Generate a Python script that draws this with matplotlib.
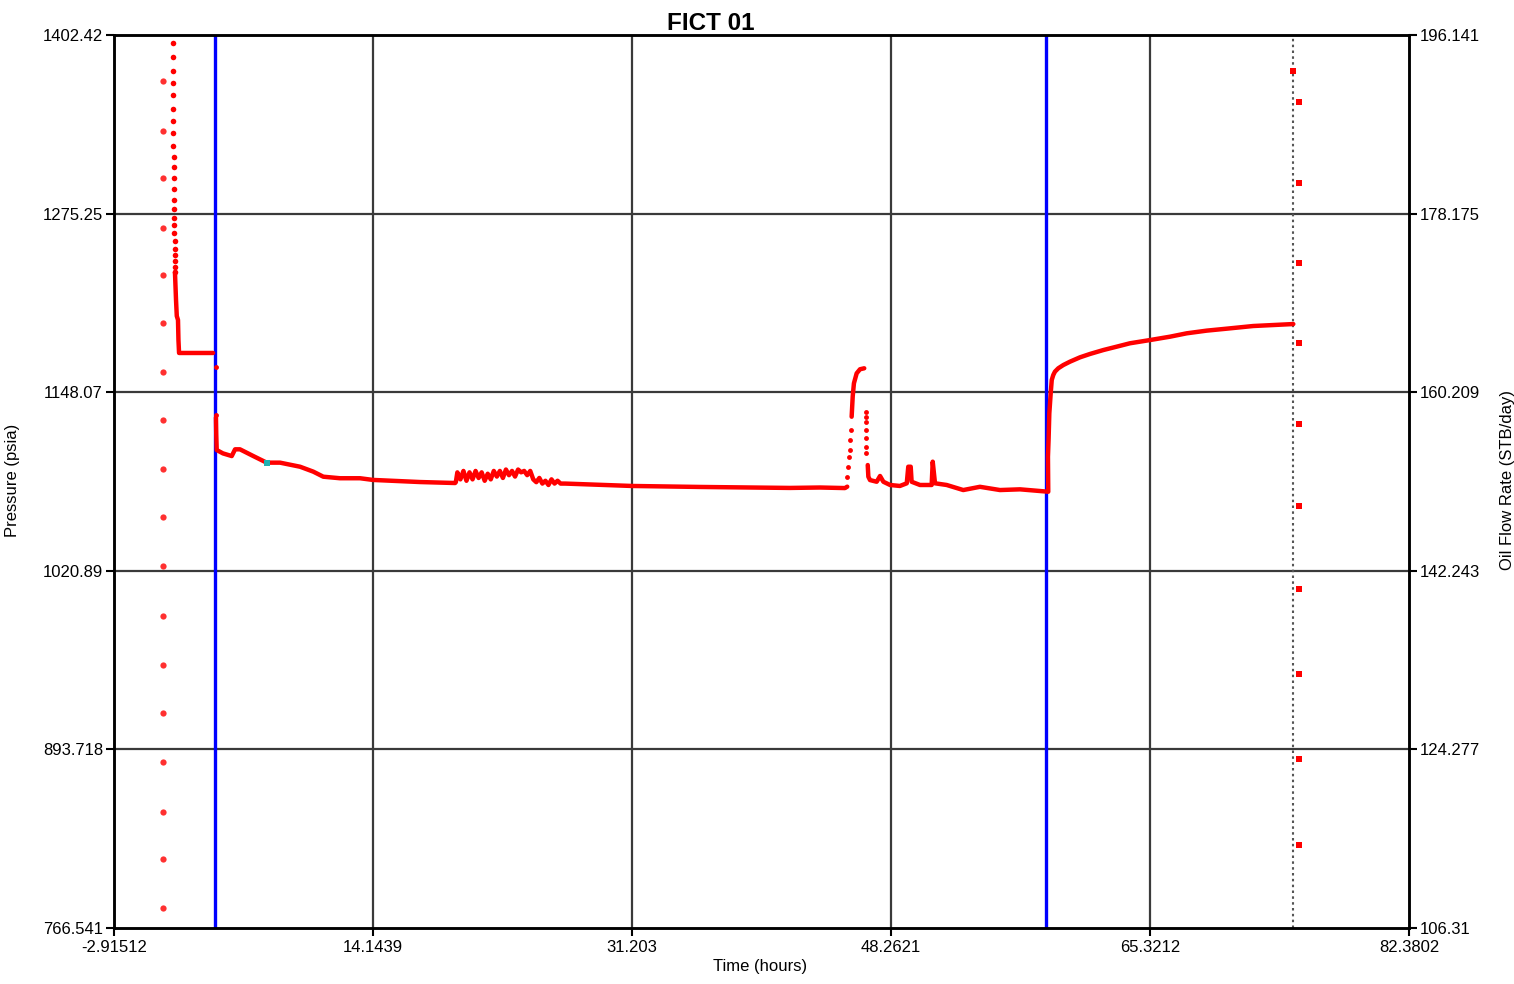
import numpy as np
import matplotlib
matplotlib.use('Agg')
import matplotlib.pyplot as plt

plt.rcParams['font.family'] = ['Liberation Sans', 'DejaVu Sans']

# ---- axis ticks ----
x_ticks = [-2.91512, 14.1439, 31.203, 48.2621, 65.3212, 82.3802]
x_tick_labels = ['-2.91512', '14.1439', '31.203', '48.2621', '65.3212', '82.3802']
p_ticks = [766.541, 893.718, 1020.89, 1148.07, 1275.25, 1402.42]
p_tick_labels = ['766.541', '893.718', '1020.89', '1148.07', '1275.25', '1402.42']
q_ticks = [106.31, 124.277, 142.243, 160.209, 178.175, 196.141]
q_tick_labels = ['106.31', '124.277', '142.243', '160.209', '178.175', '196.141']

# ---- pressure: early dense drawdown points (markers only) ----
dd_time = [0.95, 0.96, 0.96, 0.97, 0.98, 0.98, 0.99, 1.00, 1.00, 1.01, 1.02, 1.02,
           1.03, 1.04, 1.04, 1.05, 1.06, 1.06, 1.07, 1.08, 1.08, 1.09, 1.10, 1.10]
dd_pressure = [1396.9, 1387.0, 1377.0, 1368.5, 1359.5, 1349.5, 1341.0, 1332.4, 1323.4,
               1315.7, 1308.6, 1300.6, 1292.5, 1284.9, 1278.3, 1272.1, 1266.9, 1261.2,
               1255.5, 1250.2, 1245.5, 1241.3, 1237.4, 1233.6]

# ---- pressure: continuous line (nan = break) ----
line_time = [1.10, 1.17, 1.22, 1.30, 1.33, 1.37, 3.61, np.nan,
             3.80, 3.82, 3.85, 4.26, 4.84, 5.06, 5.38, 6.26, 7.14, 8.02, 9.34, 10.21,
             10.87, 11.97, 13.29, 14.14, 17.24, 19.55,
             19.6, 19.7, 19.9, 20.1, 20.3, 20.5, 20.7, 20.9, 21.1, 21.3, 21.5, 21.7,
             21.9, 22.1, 22.3, 22.5, 22.7, 22.9, 23.1, 23.3, 23.5, 23.7, 23.9, 24.1,
             24.3, 24.5, 24.7, 24.9, 25.1, 25.3, 25.5, 25.7, 25.9, 26.1, 26.3, 26.5,
             26.8, 31.20, 35.68, 41.61, 43.59, 45.23, 45.38, np.nan,
             45.67, 45.74, 45.82, 46.00, 46.22, 46.50, np.nan,
             46.73, 46.77, 46.88, 47.32, 47.54, 47.76, 48.20, 48.85, 49.30, 49.40,
             49.56, 49.62, 50.17, 50.94, 51.01, 51.16, 51.93, 53.02, 54.12, 55.44,
             56.76, 57.86, 58.62,
             58.60, 58.64, 58.69, 58.78, 58.85, 58.95, 59.06, 59.28, 59.61, 60.05,
             60.71, 61.37, 62.25, 63.13, 64.00, 65.32, 66.64, 67.74, 69.05, 70.37,
             72.12, 73.44, 74.76]
line_pressure = [1233.6, 1213.7, 1202.3, 1199.5, 1185.2, 1176.0, 1176.0, np.nan,
                 1130.0, 1118.0, 1106.9, 1104.5, 1102.6, 1107.4, 1107.4, 1102.6, 1097.9,
                 1097.9, 1095.0, 1091.5, 1087.9, 1086.8, 1086.8, 1085.6, 1084.1, 1083.4,
                 1084, 1091, 1086, 1092, 1085, 1091, 1086, 1092, 1087, 1091, 1085, 1090,
                 1086, 1092, 1088, 1092, 1087, 1093, 1089, 1092, 1088, 1093, 1091, 1092,
                 1089, 1092, 1086, 1084, 1087, 1083, 1085, 1082, 1086, 1083, 1085, 1083,
                 1083.0, 1081.3, 1080.6, 1079.9, 1080.2, 1079.8, 1080.8, np.nan,
                 1130.6, 1145.0, 1154.4, 1161.5, 1164.4, 1165.1, np.nan,
                 1096.2, 1087.9, 1085.5, 1084.3, 1088.4, 1084.3, 1082.0, 1081.3, 1083.2,
                 1095.0, 1095.0, 1084.3, 1082.0, 1082.0, 1098.6, 1083.2, 1082.0, 1078.4,
                 1080.7, 1078.4, 1078.9, 1077.9, 1077.2,
                 1102.1, 1114.0, 1133.0, 1147.3, 1156.8, 1160.3, 1162.7, 1165.1, 1167.4,
                 1169.8, 1172.9, 1175.3, 1178.1, 1180.5, 1182.9, 1185.2, 1187.6, 1190.0,
                 1191.9, 1193.3, 1195.2, 1195.9, 1196.6]

# ---- pressure: isolated points (markers only) ----
pt_time = [3.80, 3.80, 45.38, 45.45, 45.52, 45.53, 45.56, 45.63,
           46.59, 46.59, 46.59, 46.59, 46.59, 46.59, 46.59]
pt_pressure = [1166.0, 1131.9, 1087.9, 1095.0, 1102.1, 1107.0, 1114.0, 1121.1,
               1134.2, 1130.6, 1127.1, 1121.1, 1115.2, 1109.3, 1104.6]

# highlighted point
sel_time = [7.14]
sel_pressure = [1097.9]

# ---- oil flow rate (right axis) ----
q1_time = [0.33] * 18
q1_rate = [191.51, 186.51, 181.72, 176.76, 171.97, 167.20, 162.27, 157.41, 152.51,
           147.62, 142.72, 137.73, 132.77, 127.97, 123.04, 118.01, 113.25, 108.29]
q2_time = [74.74, 75.13, 75.13, 75.13, 75.13, 75.13, 75.13, 75.13, 75.13, 75.13, 75.13]
q2_rate = [192.52, 189.40, 181.25, 173.20, 165.16, 157.01, 148.76, 140.41, 131.86,
           123.31, 114.66]

# event markers
blue_times = [3.74, 58.47]
dashed_time = 74.76

W, H = 1514, 984
fig = plt.figure(figsize=(W / 100, H / 100), dpi=100)
ax = fig.add_axes([114 / W, 1 - 928 / H, (1409 - 114) / W, (928 - 35) / H])
ax2 = ax.twinx()

ax.set_xlim(x_ticks[0], x_ticks[-1])
ax.set_ylim(p_ticks[0], p_ticks[-1])
ax2.set_ylim(q_ticks[0], q_ticks[-1])

grid_c = '#3a3a3a'
for xv in x_ticks[1:-1]:
    ax.axvline(xv, color=grid_c, lw=1.6, zorder=1)
for yv in p_ticks[1:-1]:
    ax.axhline(yv, color=grid_c, lw=1.6, zorder=1)

for bt in blue_times:
    ax.axvline(bt, color='#0000ff', lw=2.4, zorder=2)
ax.axvline(dashed_time, color='#555555', lw=1.5, ls=(0, (1.2, 1.6)), zorder=2)

ax.plot(line_time, line_pressure, color='#ff0000', lw=3.2, solid_joinstyle='round',
        solid_capstyle='round', zorder=4)
ax.plot(dd_time, dd_pressure, ls='none', marker='o', ms=4, color='#ff0000', mew=0, zorder=4)
ax.plot(pt_time, pt_pressure, ls='none', marker='o', ms=3.5, color='#ff0000', mew=0, zorder=4)
ax.plot(sel_time, sel_pressure, ls='none', marker='s', ms=4, color='#20b0b0', mew=0, zorder=5)

ax2.plot(q1_time, q1_rate, ls='none', marker='o', ms=4.5, color='#ff3030', mew=0, zorder=4)
ax2.plot(q2_time, q2_rate, ls='none', marker='s', ms=4.2, color='#ff0000', mew=0, zorder=4)

ax.set_xticks(x_ticks)
ax.set_xticklabels(x_tick_labels)
ax.set_yticks(p_ticks)
ax.set_yticklabels(p_tick_labels)
ax2.set_yticks(q_ticks)
ax2.set_yticklabels(q_tick_labels)

for a in (ax, ax2):
    for s in a.spines.values():
        s.set_linewidth(1.8)
        s.set_color('black')
    a.tick_params(axis='both', length=6, width=1.5, labelsize=12, pad=2, colors='black')
ax.tick_params(axis='x', pad=3)

ax.set_xlabel('Time (hours)', fontsize=12, labelpad=4)
ax.xaxis.set_label_coords((760 - 114) / (1409 - 114), -0.035)
ax.set_ylabel('Pressure (psia)', fontsize=12)
ax.yaxis.set_label_coords(-(114 - 20) / (1409 - 114), (928 - 480) / (928 - 35))
ax2.set_ylabel('Oil Flow Rate (STB/day)', fontsize=12)
ax2.yaxis.set_label_coords((1500 - 114) / (1409 - 114), (928 - 480) / (928 - 35))

fig.text(711 / W, 1 - 23 / H, 'FICT 01', fontsize=17.5, fontweight='bold',
         ha='center', va='center')

fig.savefig('out.png', dpi=100, facecolor='white')
